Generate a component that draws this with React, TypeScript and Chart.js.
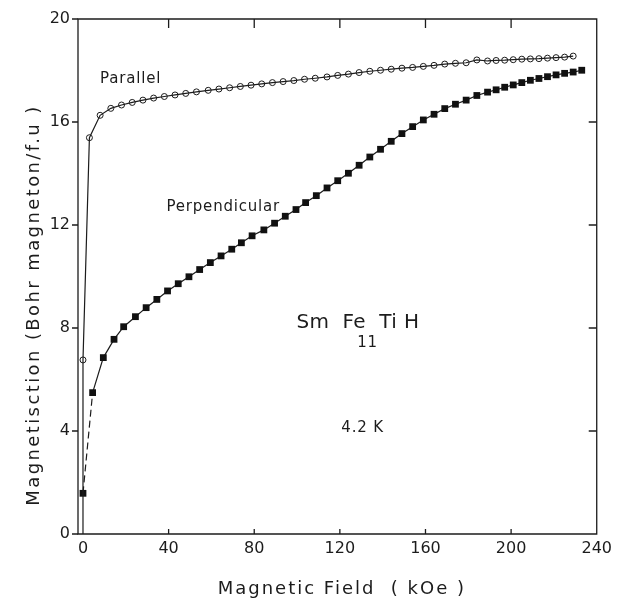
import { useEffect, useRef } from 'react';
import { Chart, registerables } from 'chart.js';

Chart.register(...registerables);

// Magnetic field (kOe) and magnetisation (Bohr magneton / f.u.)
const parallelField = [0, 0, 3, 8, 13, 18, 23, 28, 33, 38, 43, 48, 53, 58.5, 63.5, 68.5, 73.5, 78.5, 83.5, 88.5, 93.5, 98.5, 103.5, 108.5, 114, 119, 124, 129, 134, 139, 144, 149, 154, 159, 164, 169, 174, 179, 184, 189, 193, 197, 201, 205, 209, 213, 217, 221, 225, 229];
const parallelMoment = [0, 6.76, 15.39, 16.26, 16.53, 16.66, 16.76, 16.85, 16.93, 16.99, 17.05, 17.11, 17.17, 17.23, 17.28, 17.33, 17.38, 17.43, 17.48, 17.53, 17.57, 17.61, 17.66, 17.7, 17.75, 17.81, 17.86, 17.92, 17.97, 18.01, 18.05, 18.09, 18.12, 18.16, 18.2, 18.25, 18.28, 18.3, 18.41, 18.37, 18.39, 18.4, 18.42, 18.44, 18.45, 18.46, 18.48, 18.5, 18.52, 18.56];

const perpField = [0, 4.5, 9.5, 14.5, 19, 24.5, 29.5, 34.5, 39.5, 44.5, 49.5, 54.5, 59.5, 64.5, 69.5, 74, 79, 84.5, 89.5, 94.5, 99.5, 104, 109, 114, 119, 124, 129, 134, 139, 144, 149, 154, 159, 164, 169, 174, 179, 184, 189, 193, 197, 201, 205, 209, 213, 217, 221, 225, 229, 233];
const perpMoment = [1.58, 5.49, 6.85, 7.56, 8.05, 8.44, 8.79, 9.11, 9.44, 9.72, 9.99, 10.27, 10.54, 10.8, 11.06, 11.31, 11.58, 11.81, 12.07, 12.34, 12.6, 12.87, 13.14, 13.44, 13.72, 14.01, 14.32, 14.64, 14.94, 15.25, 15.55, 15.82, 16.08, 16.3, 16.52, 16.69, 16.85, 17.03, 17.16, 17.25, 17.35, 17.44, 17.53, 17.62, 17.69, 17.76, 17.83, 17.89, 17.94, 18.01];

const xTickValues = [0, 40, 80, 120, 160, 200, 240];
const yTickValues = [0, 4, 8, 12, 16, 20];

const xTitle = 'Magnetic Field  ( kOe )';
const yTitle = 'Magnetisction (Bohr magneton/f.u )';

// annotations: [text, field, moment, fontSize]
const annotations: [string, number, number, number][] = [
  ['Parallel', 8, 17.5, 15],
  ['Perpendicular', 39, 12.55, 15],
  ['Sm', 99.7, 8.0, 20],
  ['Fe', 121.2, 8.0, 20],
  ['Ti', 138.4, 8.0, 20],
  ['H', 150, 8.0, 20],
  ['11', 128.1, 7.26, 15],
  ['4.2 K', 120.7, 3.96, 15],
];

const INK = '#1c1c1c';
const FONT = '"DejaVu Sans", sans-serif';

const framePlugin = {
  id: 'framePlugin',
  afterDraw(chart: any) {
    const { ctx, chartArea: a, scales } = chart;
    const xs = scales.x;
    const ys = scales.y;
    ctx.save();
    ctx.strokeStyle = INK;
    ctx.lineWidth = 1.3;
    ctx.beginPath();
    ctx.rect(a.left, a.top, a.right - a.left, a.bottom - a.top);
    ctx.stroke();
    ctx.beginPath();
    xTickValues.forEach((v) => {
      const px = xs.getPixelForValue(v);
      if (v > 0 && v < 240) {
        ctx.moveTo(px, a.top);
        ctx.lineTo(px, a.top + 9);
        ctx.moveTo(px, a.bottom);
        ctx.lineTo(px, a.bottom - 5);
      }
    });
    yTickValues.forEach((v) => {
      const py = ys.getPixelForValue(v);
      ctx.moveTo(a.left, py);
      ctx.lineTo(a.left - 6, py);
      if (v > 0 && v < 20) {
        ctx.moveTo(a.right, py);
        ctx.lineTo(a.right - 8, py);
      }
    });
    ctx.stroke();

    ctx.fillStyle = INK;
    ctx.textBaseline = 'alphabetic';
    ctx.textAlign = 'left';
    annotations.forEach(([t, fx, fy, size]) => {
      ctx.font = `${size}px ${FONT}`;
      (ctx as any).letterSpacing = size > 16 ? '0.5px' : '0.8px';
      ctx.fillText(t, xs.getPixelForValue(fx), ys.getPixelForValue(fy));
    });

    // axis titles
    ctx.font = `18px ${FONT}`;
    (ctx as any).letterSpacing = '2px';
    ctx.textAlign = 'center';
    ctx.fillText(xTitle, (xs.getPixelForValue(0) + xs.getPixelForValue(240)) / 2 + 2, 594);
    ctx.save();
    ctx.translate(39, 305);
    ctx.rotate(-Math.PI / 2);
    (ctx as any).letterSpacing = '2.4px';
    ctx.fillText(yTitle, 0, 0);
    ctx.restore();
    (ctx as any).letterSpacing = '0px';
    ctx.restore();
  },
};

export default function App() {
  const ref = useRef<HTMLCanvasElement>(null);
  useEffect(() => {
    if (!ref.current) return;
    const chart = new Chart(ref.current, {
      type: 'line',
      data: {
        datasets: [
          {
            label: 'Parallel',
            data: parallelField.map((x, i) => ({ x, y: parallelMoment[i] })),
            borderColor: INK,
            borderWidth: 1.2,
            pointStyle: 'circle',
            pointRadius: parallelField.map((_, i) => (i === 0 ? 0 : 3)),
            pointBorderWidth: 1,
            pointBorderColor: INK,
            pointBackgroundColor: 'rgba(0,0,0,0)',
            fill: false,
            tension: 0,
          },
          {
            label: 'Perpendicular',
            data: perpField.map((x, i) => ({ x, y: perpMoment[i] })),
            borderColor: INK,
            borderWidth: 1.2,
            pointStyle: 'rect',
            pointRadius: 4.8,
            pointBorderWidth: 0,
            pointBackgroundColor: '#111',
            fill: false,
            tension: 0,
            segment: {
              borderDash: (c: any) => (c.p0DataIndex === 0 ? [7, 4] : undefined),
            },
          },
        ],
      },
      options: {
        animation: false,
        responsive: false,
        clip: false as any,
        layout: { padding: { left: 0, top: 19, right: 19, bottom: 0 } },
        plugins: { legend: { display: false }, tooltip: { enabled: false } },
        scales: {
          x: {
            type: 'linear',
            min: -2.33,
            max: 240,
            afterBuildTicks: (s: any) => {
              s.ticks = xTickValues.map((v) => ({ value: v }));
            },
            afterFit: (s: any) => {
              s.height = 66;
            },
            grid: { display: false, drawTicks: false },
            border: { display: false },
            ticks: {
              padding: 5,
              color: INK,
              font: { family: FONT, size: 16 },
              maxRotation: 0,
              autoSkip: false,
            },
          },
          y: {
            type: 'linear',
            min: 0,
            max: 20,
            afterBuildTicks: (s: any) => {
              s.ticks = yTickValues.map((v) => ({ value: v }));
            },
            afterFit: (s: any) => {
              s.width = 78;
            },
            grid: { display: false, drawTicks: false },
            border: { display: false },
            ticks: {
              padding: 8,
              color: INK,
              font: { family: FONT, size: 16 },
              autoSkip: false,
            },
          },
        },
      },
      plugins: [framePlugin],
    });
    return () => chart.destroy();
  }, []);
  return (
    <div style={{ position: 'fixed', left: 0, top: 0, width: 617, height: 600, background: '#fff' }}>
      <canvas ref={ref} width={617} height={600} style={{ width: 617, height: 600 }} />
    </div>
  );
}
